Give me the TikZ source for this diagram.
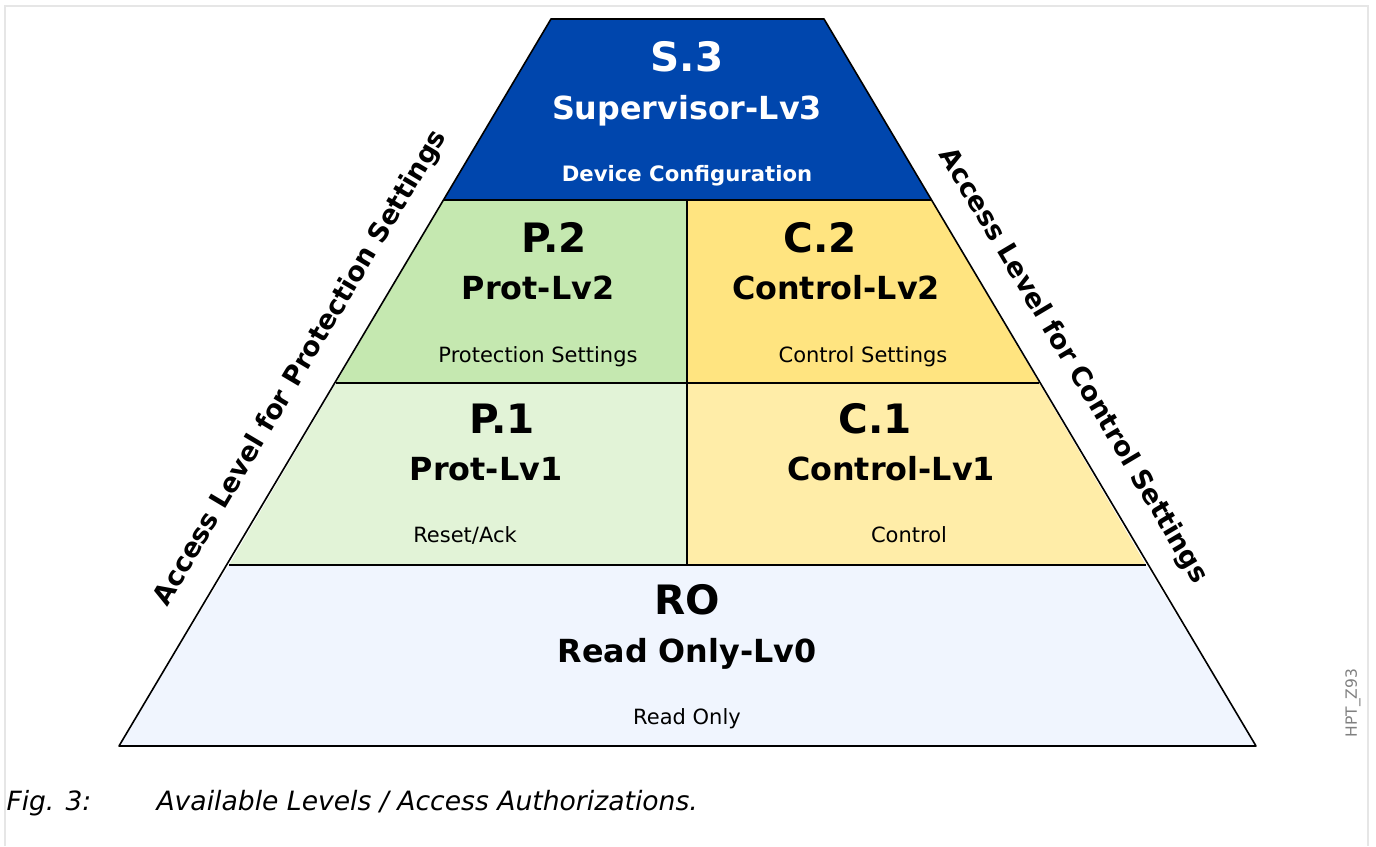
\documentclass[tikz,border=0pt]{standalone}
\usepackage{fontspec}
\setmainfont{DejaVu Sans}
\definecolor{supblue}{HTML}{0046AD}
\definecolor{protii}{HTML}{C5E8B0}
\definecolor{protone}{HTML}{E2F3D7}
\definecolor{ctrlii}{HTML}{FFE480}
\definecolor{ctrlone}{HTML}{FFEDA8}
\definecolor{rofill}{HTML}{F0F5FE}
\definecolor{framegrey}{HTML}{E6E6E6}
\begin{document}
\begin{tikzpicture}[x=1pt,y=-1pt,
  lvl/.style={anchor=base,font=\bfseries\fontsize{40.5}{40.5}\selectfont},
  lvlname/.style={anchor=base,font=\bfseries\fontsize{31.8}{31.8}\selectfont},
  lvlinfo/.style={anchor=base,font=\fontsize{21}{21}\selectfont},
  sidelabel/.style={font=\bfseries\fontsize{26.8}{26.8}\selectfont},
  edge/.style={draw=black,line width=1.6pt,line join=round}]
\useasboundingbox (0,0) rectangle (1376,846);
\draw[framegrey,line width=2pt] (5,846) -- (5,6) -- (1368,6) -- (1368,846);

% corners of the pyramid
\coordinate (L0) at (551,19);   \coordinate (R0) at (824,19);
\coordinate (L1) at (443.5,200); \coordinate (R1) at (931.5,200);
\coordinate (L2) at (336,383);  \coordinate (R2) at (1039,383);
\coordinate (L3) at (229,565);  \coordinate (R3) at (1146,565);
\coordinate (L4) at (119,746);  \coordinate (R4) at (1256,746);
\coordinate (M1) at (687,200);  \coordinate (M2) at (687,383);
\coordinate (M3) at (687,565);

\fill[supblue] (L0) -- (R0) -- (R1) -- (L1) -- cycle;
\fill[protii] (L1) -- (M1) -- (M2) -- (L2) -- cycle;
\fill[ctrlii] (M1) -- (R1) -- (R2) -- (M2) -- cycle;
\fill[protone] (L2) -- (M2) -- (M3) -- (L3) -- cycle;
\fill[ctrlone] (M2) -- (R2) -- (R3) -- (M3) -- cycle;
\fill[rofill] (L3) -- (R3) -- (R4) -- (L4) -- cycle;

\draw[edge] (L0) -- (R0) -- (R4) -- (L4) -- cycle;
\draw[edge] (L1) -- (R1);
\draw[edge] (L2) -- (R2);
\draw[edge] (L3) -- (R3);
\draw[edge] (M1) -- (M3);

% supervisor
\node[lvl,white] (s3) at (687,71) {S.3};
\node[lvlname,white] (s3name) at (687,119) {Supervisor-Lv3};
\node[lvlinfo,white,font=\bfseries\fontsize{21.2}{21.2}\selectfont] (s3info) at (687,181) {Device Configuration};

% protection
\node[lvl] (p2) at (554,252) {P.2};
\node[lvlname] (p2name) at (538,299) {Prot-Lv2};
\node[lvlinfo] (p2info) at (538,362) {Protection Settings};
\node[lvl] (p1) at (502,433) {P.1};
\node[lvlname] (p1name) at (486,480) {Prot-Lv1};
\node[lvlinfo] (p1info) at (465,542) {Reset/Ack};

% control
\node[lvl] (c2) at (820,252) {C.2};
\node[lvlname] (c2name) at (836,299) {Control-Lv2};
\node[lvlinfo] (c2info) at (863,362) {Control Settings};
\node[lvl] (c1) at (875,433) {C.1};
\node[lvlname] (c1name) at (891,480) {Control-Lv1};
\node[lvlinfo] (c1info) at (909,542) {Control};

% read only
\node[lvl] (ro) at (687,614) {RO};
\node[lvlname] (roname) at (687,662) {Read Only-Lv0};
\node[lvlinfo] (roinfo) at (687,724) {Read Only};

\node[sidelabel,rotate=59.28] (protside) at (301,368) {Access Level for Protection Settings};
\node[sidelabel,rotate=-59.28] (ctrlside) at (1073,366) {Access Level for Control Settings};

\node[rotate=90,text=gray,font=\fontsize{15.5}{15.5}\selectfont] (figid) at (1353,703) {HPT\_Z93};

\node[anchor=base west,font=\itshape\fontsize{26.5}{26.5}\selectfont] (fignum) at (3,810) {Fig. 3:};
\node[anchor=base west,font=\itshape\fontsize{26.6}{26.6}\selectfont] (figtext) at (153,810) {Available Levels / Access Authorizations.};
\end{tikzpicture}
\end{document}
